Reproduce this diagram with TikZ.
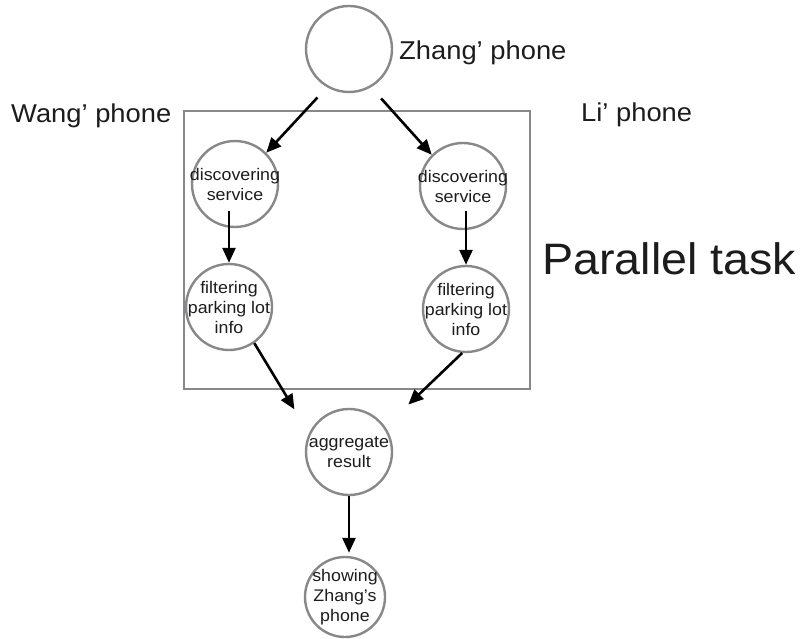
\documentclass[tikz,border=0pt]{standalone}
\usepackage{fontspec}
\setmainfont{Liberation Sans}[FakeStretch=1.06]
\usetikzlibrary{arrows.meta}
\definecolor{ringgray}{RGB}{136,136,138}
\definecolor{ink}{RGB}{28,28,28}
\begin{document}
\begin{tikzpicture}[x=1pt,y=-1pt,
  ring/.style={draw=ringgray, line width=2.4pt, circle, inner sep=0pt, minimum size=86pt},
  inner/.style={font=\fontsize{16.8}{20}\selectfont, align=center, text=ink, inner sep=0pt},
  flow/.style={line width=2.6pt, -{Triangle[length=15pt,width=13pt]}},
  tag/.style={font=\fontsize{25.8}{30}\selectfont, anchor=base west, inner sep=0pt, text=ink},
]
\useasboundingbox (0,0) rectangle (803,639);

% frame around the parallel part
\draw[draw=ringgray, line width=2.4pt] (184,111) rectangle (530,389);

% task nodes
\node[ring] (zhang) at (349,49) {};
\node[ring, label={[inner]center:discovering\\service}] (ds1) at (235,184) {};
\node[ring, label={[inner]center:discovering\\service}] (ds2) at (463,186) {};
\node[ring, label={[inner]center:filtering\\parking lot\\info}] (ff1) at (229,307) {};
\node[ring, label={[inner]center:filtering\\parking lot\\info}] (ff2) at (466,309) {};
\node[ring, label={[inner]center:aggregate\\result}] (agg) at (349,452) {};
\node[ring, minimum size=80pt, label={[inner]center:showing\\Zhang’s\\phone}] (show) at (345,597) {};

% labels
\node[tag] (lzhang) at (399,60) {Zhang’ phone};
\node[tag] (lwang) at (11,123) {Wang’ phone};
\node[tag] (lli) at (581,122) {Li’ phone};
\node[tag, font=\fontsize{44}{50}\selectfont] (lpar) at (542,274) {Parallel task};

% flow
\draw[flow, shorten <=14pt] (zhang.240) -- (ds1.45);
\draw[flow, shorten <=15pt] (zhang.-60) -- (ds2.135);
\draw[flow] ([yshift=17pt]ds1.south -| ff1.north) -- (ff1.north);
\draw[flow] ([yshift=19pt]ds2.south -| ff2.north) -- (ff2.north);
\draw[flow, shorten >=28pt] (ff1.-55) -- (agg.155);
\draw[flow, shorten >=32pt] (ff2.-95) -- (agg.35);
\draw[flow, shorten >=3pt] (agg.south) -- (agg.south |- show.north);
\end{tikzpicture}
\end{document}
